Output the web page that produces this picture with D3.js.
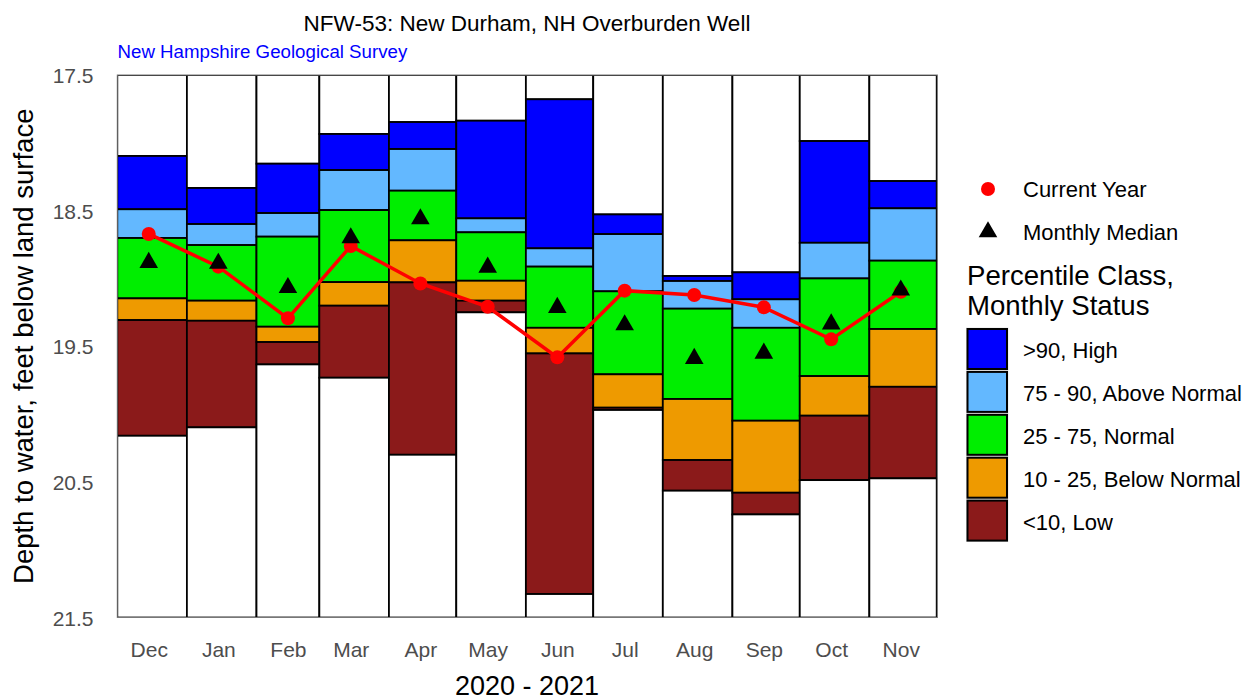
<!DOCTYPE html>
<html>
<head>
<meta charset="utf-8">
<script src="https://cdn.jsdelivr.net/npm/d3@7"></script>
<style>
  html, body { margin: 0; padding: 0; background: #fff; }
  svg { display: block; font-family: "Liberation Sans", Arial, sans-serif; }
</style>
</head>
<body>
<svg id="chart" width="1251" height="700"></svg>
<script>
// ---- data ----
const months = ["Dec","Jan","Feb","Mar","Apr","May","Jun","Jul","Aug","Sep","Oct","Nov"];
const monthStarts = ["2020-12-01","2021-01-01","2021-02-01","2021-03-01","2021-04-01","2021-05-01",
                     "2021-06-01","2021-07-01","2021-08-01","2021-09-01","2021-10-01","2021-11-01","2021-12-01"];
// band edges, depth to water (ft)
const bandTop = [18.097, 18.333, 18.154, 17.935, 17.847, 17.837, 17.679, 18.528, 18.982, 18.955, 17.987, 18.282];
const p90     = [18.490, 18.599, 18.518, 18.201, 18.046, 18.557, 18.778, 18.673, 19.019, 19.154, 18.737, 18.483];
const p75     = [18.702, 18.754, 18.692, 18.496, 18.353, 18.660, 18.913, 19.095, 19.223, 19.364, 19.000, 18.869];
const p25     = [19.147, 19.164, 19.356, 19.027, 18.719, 19.017, 19.364, 19.707, 19.889, 20.049, 19.720, 19.373];
const p10     = [19.307, 19.312, 19.469, 19.201, 19.029, 19.164, 19.553, 19.953, 20.339, 20.580, 20.012, 19.799];
const bandBottom = [20.160, 20.098, 19.634, 19.732, 20.300, 19.250, 21.327, 19.970, 20.565, 20.740, 20.487, 20.474];
const currentYear = [18.672, 18.913, 19.294, 18.761, 19.037, 19.209, 19.582, 19.090, 19.122, 19.213, 19.449, 19.098];
const monthlyMedian = [18.883, 18.889, 19.068, 18.701, 18.561, 18.918, 19.215, 19.343, 19.591, 19.552, 19.336, 19.087];
const yTicks = [17.5, 18.5, 19.5, 20.5, 21.5];
const classLabels = [">90, High", "75 - 90, Above Normal", "25 - 75, Normal", "10 - 25, Below Normal", "<10, Low"];
const classColors = ["#0000FF", "#63B8FF", "#00EE00", "#EE9A00", "#8B1A1A"];

// ---- layout ----
const svg = d3.select("#chart");
const P = { left: 117.3, right: 936.7, top: 75, bottom: 617.5 };
const parse = d3.utcParse("%Y-%m-%d");
const starts = monthStarts.map(parse);
const x = d3.scaleUtc().domain([starts[0], starts[12]]).range([P.left, P.right]);
const y = d3.scaleLinear().domain([17.5, 21.5]).range([P.top, P.bottom]);
const mid = months.map((m, i) => d3.utcDay.offset(starts[i], 14));

svg.append("defs").append("clipPath").attr("id", "panel")
  .append("rect").attr("x", P.left - 0.3).attr("y", P.top).attr("width", P.right - P.left + 1).attr("height", P.bottom - P.top);

const g = svg.append("g").attr("clip-path", "url(#panel)");

months.forEach((m, i) => {
  const edges = [17.5, bandTop[i], p90[i], p75[i], p25[i], p10[i], bandBottom[i], 21.5];
  const fills = ["#ffffff", ...classColors, "#ffffff"];
  for (let k = 0; k < 7; k++) {
    g.append("rect")
      .attr("x", x(starts[i]))
      .attr("width", x(starts[i + 1]) - x(starts[i]))
      .attr("y", y(edges[k]))
      .attr("height", y(edges[k + 1]) - y(edges[k]))
      .attr("fill", fills[k])
      .attr("stroke", "#000")
      .attr("stroke-width", 1.8);
  }
});

svg.append("rect").attr("x", P.left).attr("y", P.top)
  .attr("width", P.right - P.left + 0.7).attr("height", P.bottom - P.top)
  .attr("fill", "none").attr("stroke", "#777").attr("stroke-width", 1);

// current-year line
const line = d3.line().x((d, i) => x(mid[i])).y(d => y(d));
svg.append("path").datum(currentYear).attr("d", line)
  .attr("fill", "none").attr("stroke", "#FF0000").attr("stroke-width", 3.5);
svg.selectAll("circle.cur").data(currentYear).join("circle")
  .attr("class", "cur").attr("cx", (d, i) => x(mid[i])).attr("cy", d => y(d))
  .attr("r", 7).attr("fill", "#FF0000");

// medians
const tri = d3.symbol().type(d3.symbolTriangle).size(150);
svg.selectAll("path.med").data(monthlyMedian).join("path")
  .attr("class", "med").attr("d", tri)
  .attr("transform", (d, i) => `translate(${x(mid[i])},${y(d)})`)
  .attr("fill", "#000");

// axes
const xAxis = d3.axisBottom(x).tickValues(mid).tickFormat((d, i) => months[i]).tickSize(0).tickPadding(0);
const gx = svg.append("g").attr("transform", `translate(0,${P.bottom})`).call(xAxis);
gx.select(".domain").remove();
gx.selectAll("text").attr("dy", null).attr("y", 39.5)
  .style("font-size", "21px").style("font-family", "Liberation Sans, Arial, sans-serif").attr("fill", "#4d4d4d");

const yAxis = d3.axisLeft(y).tickValues(yTicks).tickFormat(d3.format(".1f")).tickSize(0).tickPadding(0);
const gy = svg.append("g").attr("transform", `translate(93.5,0)`).call(yAxis);
gy.select(".domain").remove();
gy.selectAll("text").attr("x", 0).attr("dy", "0.36em")
  .style("font-size", "21px").style("font-family", "Liberation Sans, Arial, sans-serif").attr("fill", "#4d4d4d");

// titles
svg.append("text").attr("x", (P.left + P.right) / 2).attr("y", 31).attr("text-anchor", "middle")
  .style("font-size", "22.5px").attr("fill", "#000").text("NFW-53: New Durham, NH Overburden Well");
svg.append("text").attr("x", 117.5).attr("y", 57.5)
  .style("font-size", "18.7px").attr("fill", "#0000FF").text("New Hampshire Geological Survey");
svg.append("text").attr("x", (P.left + P.right) / 2).attr("y", 695).attr("text-anchor", "middle")
  .style("font-size", "27px").attr("fill", "#000").text("2020 - 2021");
svg.append("text").attr("transform", `translate(33,${(P.top + P.bottom) / 2}) rotate(-90)`).attr("text-anchor", "middle")
  .style("font-size", "27.5px").attr("fill", "#000").text("Depth to water, feet below land surface");

// legend
const L = svg.append("g");
L.append("circle").attr("cx", 988).attr("cy", 189).attr("r", 7).attr("fill", "#FF0000");
L.append("text").attr("x", 1023).attr("y", 189.5).attr("dy", "0.36em").style("font-size", "22px").text("Current Year");
L.append("path").attr("d", tri).attr("transform", "translate(988,232)").attr("fill", "#000");
L.append("text").attr("x", 1023).attr("y", 232.5).attr("dy", "0.36em").style("font-size", "22px").text("Monthly Median");
L.append("text").attr("x", 967).attr("y", 285).style("font-size", "27.6px").text("Percentile Class,");
L.append("text").attr("x", 967).attr("y", 315).style("font-size", "27.6px").text("Monthly Status");
const keyTop = 328.5, keyPitch = 42.9;
classLabels.forEach((lab, k) => {
  const ty = keyTop + k * keyPitch;
  L.append("rect").attr("x", 966).attr("y", ty - 1).attr("width", 42.5).attr("height", keyPitch)
    .attr("fill", "#e8e8e8");
  L.append("rect").attr("x", 967.5).attr("y", ty + 0.5).attr("width", 39.5).attr("height", 40)
    .attr("fill", classColors[k]).attr("stroke", "#000").attr("stroke-width", 2);
  L.append("text").attr("x", 1023).attr("y", ty + 21.5).attr("dy", "0.36em").style("font-size", "22px").text(lab);
});
</script>
</body>
</html>
